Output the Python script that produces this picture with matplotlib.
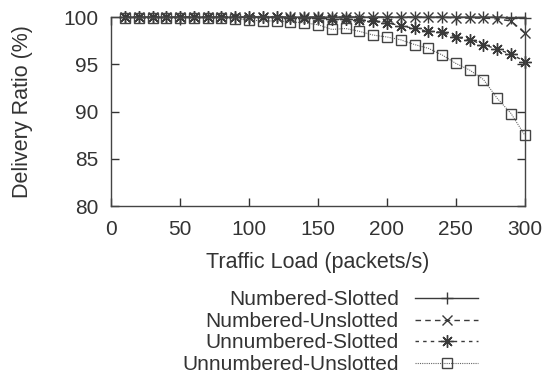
import matplotlib
matplotlib.use("Agg")
import matplotlib.pyplot as plt

plt.rcParams['font.family'] = ['Liberation Sans', 'DejaVu Sans']

# traffic load (packets/s)
load = [10, 20, 30, 40, 50, 60, 70, 80, 90, 100,
        110, 120, 130, 140, 150, 160, 170, 180, 190, 200,
        210, 220, 230, 240, 250, 260, 270, 280, 290, 300]

# delivery ratio (%)
numbered_slotted = [100.0, 100.0, 100.0, 100.0, 100.0, 100.0, 100.0, 100.0, 100.0, 100.0,
                    100.0, 100.0, 100.0, 100.0, 100.0, 100.0, 100.0, 100.0, 100.0, 100.0,
                    100.0, 100.0, 100.0, 100.0, 100.0, 100.0, 100.0, 100.0, 99.9, 99.9]
numbered_unslotted = [100.0, 100.0, 100.0, 100.0, 100.0, 100.0, 100.0, 100.0, 100.0, 100.0,
                      100.0, 100.0, 100.0, 100.0, 100.0, 100.0, 100.0, 100.0, 100.0, 100.0,
                      100.0, 100.0, 100.0, 100.0, 99.9, 99.9, 99.9, 99.8, 99.6, 98.3]
unnumbered_slotted = [100.0, 100.0, 100.0, 100.0, 100.0, 100.0, 100.0, 100.0, 100.0, 100.0,
                      100.0, 100.0, 99.9, 99.9, 99.9, 99.8, 99.8, 99.7, 99.6, 99.4,
                      99.1, 98.8, 98.5, 98.4, 97.9, 97.6, 97.1, 96.6, 96.1, 95.3]
unnumbered_unslotted = [99.9, 99.9, 99.9, 99.9, 99.9, 99.9, 99.9, 99.9, 99.8, 99.7,
                        99.6, 99.6, 99.5, 99.4, 99.2, 98.7, 98.8, 98.5, 98.1, 97.9,
                        97.6, 97.1, 96.7, 96.0, 95.1, 94.4, 93.4, 91.4, 89.8, 87.5]

fig = plt.figure(figsize=(5.45, 3.81), dpi=100)
ax = fig.add_axes([0.204, 0.459, 0.759, 0.496])

lc = '#3a3a3a'
ax.plot(load, numbered_slotted, color=lc, lw=1.0, ls='-',
        marker='+', ms=9, mew=1.0, label='Numbered-Slotted', clip_on=False)
ax.plot(load, numbered_unslotted, color=lc, lw=1.0, ls=(0, (4, 3)),
        marker='x', ms=7, mew=1.0, label='Numbered-Unslotted', clip_on=False)
ax.plot(load, unnumbered_slotted, color=lc, lw=1.0, ls=(0, (2.5, 3)),
        marker=(8, 2, 0), ms=9, mew=1.0, label='Unnumbered-Slotted', clip_on=False)
ax.plot(load, unnumbered_unslotted, color='#666666', lw=0.8, ls=(0, (1, 1)),
        marker='s', ms=7, mfc='none', mec='#444444', mew=1.0,
        label='Unnumbered-Unslotted', clip_on=False)

ax.set_xlim(0, 300)
ax.set_ylim(80, 100)
ax.set_xticks([0, 50, 100, 150, 200, 250, 300])
ax.set_yticks([80, 85, 90, 95, 100])
ax.tick_params(direction='in', length=6, width=1, colors='#333333',
               labelsize=15, top=True, right=True)
ax.tick_params(axis='x', pad=10)
ax.tick_params(axis='y', pad=9)
for s in ax.spines.values():
    s.set_color('#444444')
    s.set_linewidth(1.0)

ax.set_xlabel('Traffic Load (packets/s)', fontsize=15.5, color='#333333', labelpad=9)
ax.set_ylabel('Delivery Ratio (%)', fontsize=15.5, color='#333333', labelpad=22)

leg = fig.legend(loc='center right', bbox_to_anchor=(0.896, 0.128),
                 frameon=False, markerfirst=False, fontsize=15,
                 handlelength=3.0, handletextpad=0.8, labelspacing=0.12,
                 borderpad=0)
for t in leg.get_texts():
    t.set_color('#333333')

fig.savefig('out.png', dpi=100)
